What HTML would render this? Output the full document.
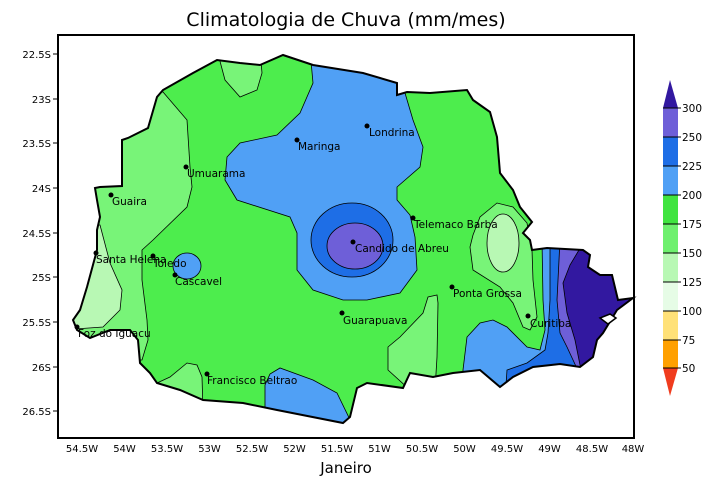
<!DOCTYPE html>
<html><head><meta charset="utf-8"><style>
body{margin:0;background:#fff;width:720px;height:480px;overflow:hidden}
svg text{font-family:"DejaVu Sans","Liberation Sans",sans-serif}
</style></head><body>
<svg width="720" height="480" viewBox="0 0 720 480" xmlns="http://www.w3.org/2000/svg">
<defs>
<clipPath id="st"><path id="stp" d="M95,188 L100,187 L122,186 L122,140 L128,138 L148,128 L157,97 L163,90 L193,73 L217,60 L240,63 L260,65 L283,55 L313,65 L363,73 L397,83 L397,95 L407,92 L430,93 L467,90 L473,100 L490,112 L497,137 L500,173 L513,190 L520,207 L532,222 L523,233 L530,240 L532,250 L547,248 L583,250 L590,255 L588,267 L600,275 L612,275 L618,300 L633,298 L617,310 L603,333 L597,340 L593,357 L580,367 L560,364 L533,367 L513,377 L500,387 L480,370 L453,373 L433,377 L410,373 L403,388 L367,383 L357,388 L350,417 L343,423 L277,410 L243,403 L203,400 L180,390 L157,383 L150,373 L140,363 L138,340 L130,330 L110,330 L90,338 L77,330 L73,320 L80,310 L87,287 L97,250 L97,230 L100,217 L97,200 Z"/></clipPath>
</defs>
<g clip-path="url(#st)" stroke="#000" stroke-width="0.8">
<rect x="50" y="40" width="600" height="400" fill="#4ded4d" stroke="none"/>
<path fill="#78f478" d="M163,92 L187,120 L190,167 L192,187 L187,207 L153,240 L142,250 L142,280 L147,320 L148,340 L142,360 L60,360 L60,92 Z"/>
<path fill="#b8f8b4" d="M100,225 L110,263 L122,290 L120,310 L103,327 L60,330 L60,225 Z"/>
<path fill="#78f478" d="M217,50 L225,80 L240,97 L257,90 L262,73 L260,50 Z"/>
<path fill="#78f478" d="M150,390 L157,383 L170,377 L187,363 L197,365 L202,377 L203,410 L150,410 Z"/>
<path fill="#50a0f5" d="M310,50 L313,83 L300,113 L277,135 L240,143 L227,157 L225,180 L237,200 L290,217 L297,233 L297,270 L313,290 L343,300 L367,300 L400,293 L417,270 L415,237 L410,215 L397,200 L397,187 L420,167 L423,147 L413,120 L405,93 L400,50 Z"/>
<ellipse cx="352" cy="240" rx="41" ry="37" fill="#1e6ee6"/>
<ellipse cx="355" cy="246" rx="28" ry="23" fill="#6e5fd8"/>
<ellipse cx="187" cy="266" rx="14" ry="13" fill="#50a0f5"/>
<path fill="#50a0f5" d="M265,430 L265,385 L270,374 L280,368 L313,380 L337,393 L355,430 Z"/>
<path fill="#78f478" d="M473,235 L480,217 L497,203 L513,207 L527,223 L532,250 L533,280 L537,317 L530,330 L523,327 L513,303 L500,287 L473,270 L470,247 Z"/>
<ellipse cx="503" cy="243" rx="16" ry="29" fill="#b8f8b4"/>
<path fill="#78f478" d="M388,347 L400,337 L423,313 L428,297 L437,295 L438,303 L437,357 L435,390 L410,390 L388,370 Z"/>
<path fill="#50a0f5" d="M463,400 L463,370 L467,337 L480,323 L493,320 L507,327 L527,347 L540,350 L545,330 L543,300 L542,240 L640,240 L640,400 Z"/>
<path fill="#1e6ee6" d="M550,240 L550,300 L548,333 L545,350 L527,363 L507,370 L505,400 L640,400 L640,240 Z"/>
<path fill="#6e5fd8" d="M560,240 L557,300 L560,333 L567,347 L580,375 L640,375 L640,240 Z"/>
<path fill="#3218a0" d="M585,240 L570,265 L563,283 L567,313 L575,340 L582,375 L640,375 L640,240 Z"/>
</g>
<use href="#stp" fill="none" stroke="#000" stroke-width="2"/>
<path d="M600,318 L610,314 L616,318 L608,324 Z" fill="#fff" stroke="#000" stroke-width="1.5"/>
<rect x="58" y="35" width="576" height="403" fill="none" stroke="#000" stroke-width="2"/>
<g fill="#000">
<circle cx="367" cy="126" r="2.5"/><circle cx="297" cy="140" r="2.5"/><circle cx="186" cy="167" r="2.5"/><circle cx="111" cy="195" r="2.5"/><circle cx="413" cy="218" r="2.5"/><circle cx="353" cy="242" r="2.5"/><circle cx="96" cy="253" r="2.5"/><circle cx="153" cy="256" r="2.5"/><circle cx="175" cy="275" r="2.5"/><circle cx="452" cy="287" r="2.5"/><circle cx="342" cy="313" r="2.5"/><circle cx="528" cy="316" r="2.5"/><circle cx="77" cy="327" r="2.5"/><circle cx="207" cy="374" r="2.5"/>
</g>
<g font-size="10.5" fill="#000">
<text x="369" y="136">Londrina</text><text x="298" y="150">Maringa</text><text x="187" y="177">Umuarama</text><text x="112" y="205">Guaira</text><text x="414" y="228">Telemaco Barba</text><text x="355" y="252">Candido de Abreu</text><text x="96" y="263">Santa Helena</text><text x="153" y="267">Toledo</text><text x="175" y="285">Cascavel</text><text x="453" y="297">Ponta Grossa</text><text x="343" y="324">Guarapuava</text><text x="530" y="327">Curitiba</text><text x="78" y="337">Foz do Iguacu</text><text x="207" y="384">Francisco Beltrao</text>
</g>
<g font-size="10" fill="#000" text-anchor="middle">
<text x="82" y="452">54.5W</text><text x="124.5" y="452">54W</text><text x="167" y="452">53.5W</text><text x="209.5" y="452">53W</text><text x="252" y="452">52.5W</text><text x="294.5" y="452">52W</text><text x="337" y="452">51.5W</text><text x="379.5" y="452">51W</text><text x="422" y="452">50.5W</text><text x="464.5" y="452">50W</text><text x="507" y="452">49.5W</text><text x="549.5" y="452">49W</text><text x="592" y="452">48.5W</text><text x="633" y="452">48W</text>
</g>
<g font-size="10" fill="#000" text-anchor="end">
<text x="51" y="58">22.5S</text><text x="51" y="103">23S</text><text x="51" y="147">23.5S</text><text x="51" y="192">24S</text><text x="51" y="237">24.5S</text><text x="51" y="281">25S</text><text x="51" y="326">25.5S</text><text x="51" y="371">26S</text><text x="51" y="415">26.5S</text>
</g>
<g stroke="#000" stroke-width="1">
<path d="M53,54H58M53,99H58M53,143H58M53,188H58M53,233H58M53,277H58M53,322H58M53,367H58M53,411H58"/>
</g>
<text x="346" y="26" font-size="19" text-anchor="middle" fill="#000">Climatologia de Chuva (mm/mes)</text>
<text x="346" y="473" font-size="15" text-anchor="middle" fill="#000">Janeiro</text>
<g stroke="none">
<polygon points="670,80 678,108 663,108" fill="#3218a0"/>
<rect x="663" y="108" width="15" height="29" fill="#6e5fd8"/>
<rect x="663" y="137" width="15" height="29" fill="#1e6ee6"/>
<rect x="663" y="166" width="15" height="29" fill="#50a0f5"/>
<rect x="663" y="195" width="15" height="29" fill="#40e440"/>
<rect x="663" y="224" width="15" height="29" fill="#6ef06e"/>
<rect x="663" y="253" width="15" height="29" fill="#b8f8b4"/>
<rect x="663" y="282" width="15" height="29" fill="#e6fce6"/>
<rect x="663" y="311" width="15" height="29" fill="#ffe178"/>
<rect x="663" y="340" width="15" height="28" fill="#ffa000"/>
<polygon points="663,368 678,368 670,396" fill="#f03c1e"/>
</g>
<g stroke="#000" stroke-width="1"><path d="M663,108H681M663,137H681M663,166H681M663,195H681M663,224H681M663,253H681M663,282H681M663,311H681M663,340H681M663,368H681"/></g>
<g font-size="10.5" fill="#000">
<text x="682" y="112">300</text><text x="682" y="141">250</text><text x="682" y="170">225</text><text x="682" y="199">200</text><text x="682" y="228">175</text><text x="682" y="257">150</text><text x="682" y="286">125</text><text x="682" y="315">100</text><text x="682" y="344">75</text><text x="682" y="372">50</text>
</g>
</svg>
</body></html>
